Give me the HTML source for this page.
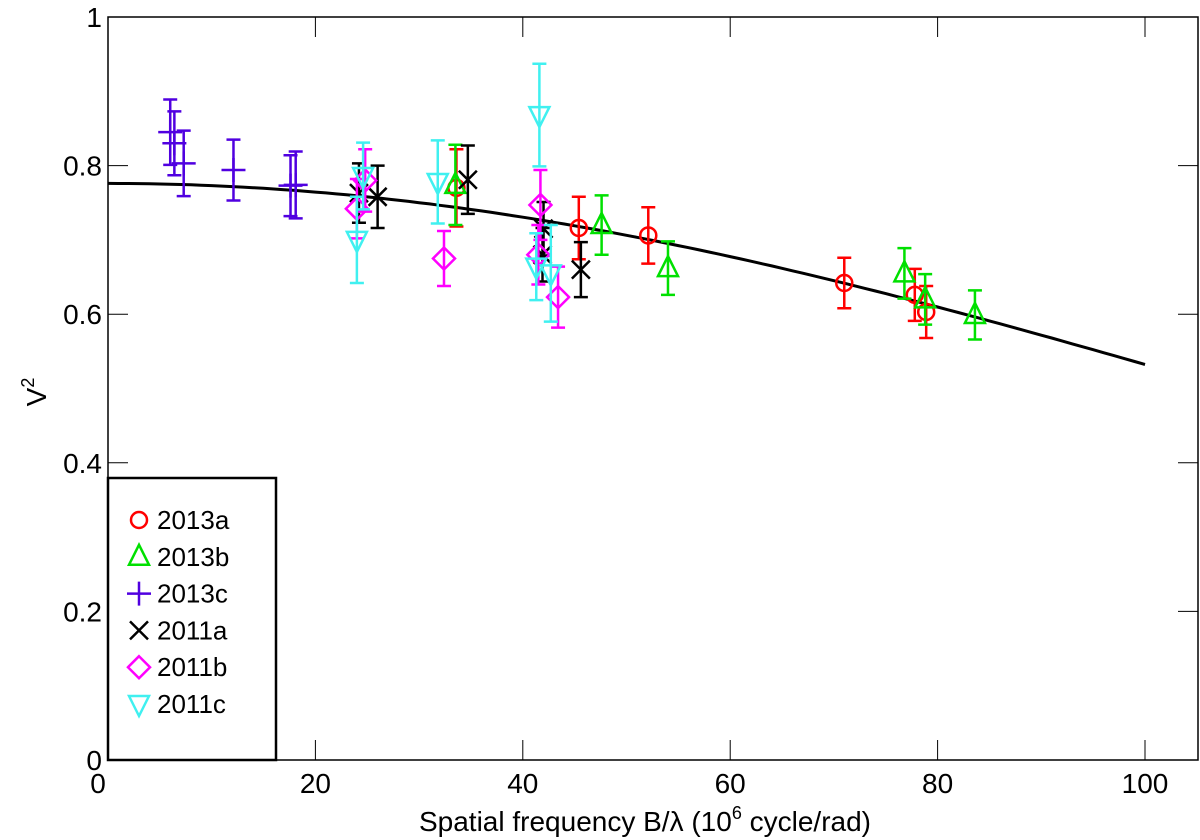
<!DOCTYPE html>
<html><head><meta charset="utf-8"><style>
html,body{margin:0;padding:0;background:#fff;}
svg{display:block;font-family:"Liberation Sans",sans-serif;}
</style></head><body>
<svg id="chart" width="1200" height="840" viewBox="0 0 1200 840">
<g id="plot"></g>
</svg>
<script>
const xTicks=[0,20,40,60,80,100];
const yTicks=[0,0.2,0.4,0.6,0.8,1];
const yTickLabels=["0","0.2","0.4","0.6","0.8","1"];
const seriesNames=["2013a","2013b","2013c","2011a","2011b","2011c"];
const seriesColors=["#ff0000","#00e000","#5000e0","#000000","#ff00ff","#40f0f0"];
const seriesMarkers=["circle","up","plus","cross","diamond","down"];
const d2013aX=[33.6,45.4,52.1,71.0,77.8,78.9];
const d2013aY=[0.770,0.716,0.706,0.642,0.626,0.603];
const d2013aE=[0.052,0.042,0.038,0.034,0.035,0.035];
const d2013bX=[33.5,47.6,54.0,76.8,78.8,83.6];
const d2013bY=[0.774,0.720,0.662,0.655,0.620,0.599];
const d2013bE=[0.054,0.040,0.036,0.034,0.034,0.033];
const d2013cX=[6.0,6.4,7.3,12.1,17.6,18.1];
const d2013cY=[0.845,0.830,0.803,0.794,0.773,0.774];
const d2013cE=[0.044,0.043,0.044,0.041,0.041,0.045];
const d2011aX=[24.2,26.0,34.7,42.0,41.9,45.6];
const d2011aY=[0.763,0.758,0.781,0.715,0.680,0.660];
const d2011aE=[0.040,0.042,0.046,0.036,0.036,0.037];
const d2011bX=[24.0,24.8,32.4,41.7,41.5,43.4];
const d2011bY=[0.742,0.780,0.675,0.747,0.680,0.623];
const d2011bE=[0.040,0.042,0.037,0.047,0.040,0.041];
const d2011cX=[24.0,24.6,31.8,41.6,41.3,42.7];
const d2011cY=[0.700,0.786,0.778,0.868,0.664,0.655];
const d2011cE=[0.058,0.045,0.056,0.069,0.045,0.065];
const modelA=0.776, modelK=3.77e-5;

const X0=108,X1=1198,Y0=760,Y1=17;
const sx=v=>X0+v*10.37;
const sy=v=>Y0-v*(Y0-Y1);
const NS="http://www.w3.org/2000/svg";
const g=document.getElementById('plot');
function mk(t,a,p){const e=document.createElementNS(NS,t);for(const k in a)e.setAttribute(k,a[k]);(p||g).appendChild(e);return e;}

const frame=mk('rect',{x:X0,y:Y1,width:X1-X0,height:Y0-Y1,fill:'none',stroke:'#000','stroke-width':1.5});



xTicks.forEach((v,i)=>{
  const t=mk('line',{x1:sx(v),x2:sx(v),y1:Y0,y2:Y0-20,stroke:'#000','stroke-width':1});
  
  
  const t2=mk('line',{x1:sx(v),x2:sx(v),y1:Y1,y2:Y1+20,stroke:'#000','stroke-width':1});
  
  
  const l=mk('text',{x:sx(v)+(v===0?-10:0),y:Y0+33,'text-anchor':'middle','font-size':28});
  l.textContent=String(v);
  
  
});
yTicks.forEach((v,i)=>{
  const t=mk('line',{x1:X0,x2:X0+20,y1:sy(v),y2:sy(v),stroke:'#000','stroke-width':1});
  
  
  const t2=mk('line',{x1:X1-20,x2:X1,y1:sy(v),y2:sy(v),stroke:'#000','stroke-width':1});
  
  
  const l=mk('text',{x:X0-6,y:sy(v)+10,'text-anchor':'end','font-size':28});
  l.textContent=yTickLabels[i];
  
  
});
const xt=mk('text',{x:645,y:831,'text-anchor':'middle','font-size':28});
xt.innerHTML='Spatial frequency B/λ (10<tspan dy="-12" font-size="18">6</tspan><tspan dy="12"> cycle/rad)</tspan>';


const yt=mk('text',{transform:'translate(46,392) rotate(-90)','text-anchor':'middle','font-size':28});
yt.innerHTML='V<tspan dy="-12" font-size="18">2</tspan>';



let pts=[];
for(let x=0;x<=100;x+=1){pts.push(sx(x).toFixed(1)+','+sy(modelA*Math.exp(-modelK*x*x)).toFixed(1));}
const curve=mk('polyline',{points:pts.join(' '),fill:'none',stroke:'#000','stroke-width':3});



function marker(type,cx,cy,color,parent){
  const a={fill:'none',stroke:color,'stroke-width':2.5};
  let e;
  if(type==='circle'){e=mk('circle',Object.assign({cx,cy,r:8},a),parent);}
  else if(type==='up'){e=mk('polygon',Object.assign({points:`${cx},${cy-12} ${cx-10},${cy+8} ${cx+10},${cy+8}`},a),parent);}
  else if(type==='down'){e=mk('polygon',Object.assign({points:`${cx},${cy+12} ${cx-10},${cy-8} ${cx+10},${cy-8}`},a),parent);}
  else if(type==='diamond'){e=mk('polygon',Object.assign({points:`${cx},${cy-11} ${cx+11},${cy} ${cx},${cy+11} ${cx-11},${cy}`},a),parent);}
  else if(type==='plus'){e=mk('path',Object.assign({d:`M${cx-12},${cy}H${cx+12}M${cx},${cy-12}V${cy+12}`},a),parent);}
  else {e=mk('path',Object.assign({d:`M${cx-9},${cy-9}L${cx+9},${cy+9}M${cx-9},${cy+9}L${cx+9},${cy-9}`},a),parent);}
  return e;
}
const allX=[d2013aX,d2013bX,d2013cX,d2011aX,d2011bX,d2011cX];
const allY=[d2013aY,d2013bY,d2013cY,d2011aY,d2011bY,d2011cY];
const allE=[d2013aE,d2013bE,d2013cE,d2011aE,d2011bE,d2011cE];
seriesNames.forEach((n,s)=>{
  const sg=mk('g',{});
  
  
  const c=seriesColors[s];
  allX[s].forEach((xv,i)=>{
    const cx=sx(xv),cy=sy(allY[s][i]),t=sy(allY[s][i]+allE[s][i]),b=sy(allY[s][i]-allE[s][i]);
    const eb=mk('path',{d:`M${cx},${t}V${b}M${cx-7},${t}H${cx+7}M${cx-7},${b}H${cx+7}`,stroke:c,'stroke-width':2.5,fill:'none'},sg);
    
    
    const m=marker(seriesMarkers[s],cx,cy,c,sg);
    
    
  });
});

const lg=mk('g',{});


mk('rect',{x:X0,y:478,width:168,height:282,fill:'#fff',stroke:'#000','stroke-width':2.5},lg);
seriesNames.forEach((n,s)=>{
  const y=520+s*36.8;
  const eg=mk('g',{},lg);
  
  
  marker(seriesMarkers[s],139,y,seriesColors[s],eg);
  const t=mk('text',{x:157,y:y+9,'font-size':26},eg);
  t.textContent=n;
});
</script>
</body></html>
